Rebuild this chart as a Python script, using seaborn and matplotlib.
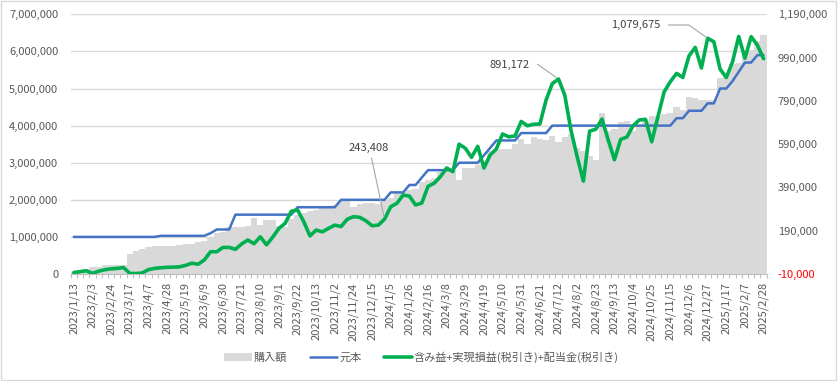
import numpy as np
import pandas as pd
import matplotlib
matplotlib.use("Agg")
import matplotlib.pyplot as plt
import seaborn as sns
from matplotlib.patches import Patch, Rectangle
from matplotlib.lines import Line2D

# ---------------- data ----------------
tick_labels = [
    "2023/1/13", "2023/2/3", "2023/2/24", "2023/3/17", "2023/4/7", "2023/4/28",
    "2023/5/19", "2023/6/9", "2023/6/30", "2023/7/21", "2023/8/10", "2023/9/1",
    "2023/9/22", "2023/10/13", "2023/11/2", "2023/11/24", "2023/12/15", "2024/1/5",
    "2024/1/26", "2024/2/16", "2024/3/8", "2024/3/29", "2024/4/19", "2024/5/10",
    "2024/5/31", "2024/6/21", "2024/7/12", "2024/8/2", "2024/8/23", "2024/9/13",
    "2024/10/4", "2024/10/25", "2024/11/15", "2024/12/6", "2024/12/27", "2025/1/17",
    "2025/2/7", "2025/2/28",
]

# 購入額 (thousand yen)
purchase_k = [
    50, 100, 130, 180, 200, 230, 240, 250, 250, 550,
    620, 670, 720, 750, 750, 760, 760, 780, 800, 820,
    850, 880, 1000, 1100, 1140, 1270, 1270, 1280, 1300, 1500,
    1320, 1460, 1460, 1300, 1270, 1480, 1600, 1650, 1700, 1720,
    1830, 1830, 1860, 2000, 2000, 1810, 1900, 1920, 1920, 1900,
    1980, 2050, 2180, 2220, 2260, 2280, 2480, 2530, 2600, 2740,
    2870, 2800, 2540, 2850, 2870, 2950, 3050, 3320, 3350, 3370,
    3370, 3500, 3630, 3500, 3680, 3650, 3620, 3730, 3550, 3680,
    3770, 3410, 3320, 3190, 3070, 4330, 3860, 3920, 4090, 4130,
    3860, 4000, 4130, 4270, 4270, 4300, 4330, 4510, 4420, 4770,
    4750, 4680, 4690, 4690, 5290, 5300, 5670, 5700, 5980, 6030,
    6280, 6450,
]

# 元本 (thousand yen)
principal_k = [
    1000, 1000, 1000, 1000, 1000, 1000, 1000, 1000, 1000, 1000,
    1000, 1000, 1000, 1000, 1030, 1030, 1030, 1030, 1030, 1030,
    1030, 1030, 1100, 1200, 1200, 1200, 1600, 1600, 1600, 1600,
    1600, 1600, 1600, 1600, 1600, 1600, 1800, 1800, 1800, 1800,
    1800, 1800, 1800, 2000, 2000, 2000, 2000, 2000, 2000, 2000,
    2000, 2200, 2200, 2200, 2400, 2400, 2600, 2800, 2800, 2800,
    2800, 2800, 3000, 3000, 3000, 3000, 3200, 3400, 3600, 3600,
    3600, 3600, 3800, 3800, 3800, 3800, 3800, 4000, 4000, 4000,
    4000, 4000, 4000, 4000, 4000, 4000, 4000, 4000, 4000, 4000,
    4000, 4000, 4000, 4000, 4000, 4000, 4000, 4200, 4200, 4400,
    4400, 4400, 4600, 4600, 5000, 5000, 5200, 5450, 5700, 5700,
    5900, 5900,
]

# 含み益+実現損益(税引き)+配当金(税引き) (yen)
pnl = [
    -3000, 1000, 5000, -7000, 3000, 10000, 14000, 16000, 20000, -7000,
    -8000, -5000, 10000, 16000, 19000, 21000, 22000, 23000, 30000, 40000,
    35000, 55000, 93000, 93000, 113000, 113000, 104000, 129000, 147000, 130000,
    162000, 125000, 160000, 201000, 224000, 280000, 286000, 232000, 166000, 193000,
    185000, 201000, 216000, 209000, 243000, 255000, 252000, 236000, 213000, 216000,
    243408, 301000, 317000, 355000, 350000, 309000, 318000, 395000, 410000, 440000,
    480000, 463000, 590000, 571000, 529000, 580000, 480000, 540000, 568000, 637000,
    624000, 628000, 695000, 675000, 682000, 683000, 794000, 870000, 891172, 817000,
    655000, 532000, 419000, 650000, 659000, 706000, 609000, 518000, 612000, 623000,
    675000, 702000, 705000, 601000, 717000, 832000, 879000, 917000, 898000, 998000,
    1037000, 942000, 1079675, 1063000, 937000, 898000, 970000, 1088000, 987000, 1087000,
    1048000, 985000,
]

legend_labels = ["購入額", "元本", "含み益+実現損益(税引き)+配当金(税引き)"]
annotated_weeks = [50, 78, 102]

# ---------------- figure ----------------
n = len(purchase_k)
df = pd.DataFrame({
    "week": np.arange(n),
    "purchase": np.array(purchase_k) * 1000,
    "principal": np.array(principal_k) * 1000,
    "pnl": pnl,
})

sns.set_theme(style="white")
plt.rcParams["font.family"] = ["Noto Sans CJK JP", "DejaVu Sans"]

GRAY_TXT = "#595959"
BAR_C = "#d9d9d9"
BLUE = "#4472c4"
GREEN = "#00b050"

fig = plt.figure(figsize=(8.38, 3.81), dpi=100)
ax = fig.add_axes([0.0844, 0.2808, 0.8305, 0.6816])

sns.barplot(data=df, x="week", y="purchase", color=BAR_C, saturation=1,
            width=1.0, errorbar=None, linewidth=0, ax=ax)
sns.lineplot(data=df, x="week", y="principal", color=BLUE, linewidth=1.8,
             legend=False, ax=ax)

ax.set_xlim(-0.5, n - 0.5)
ax.set_ylim(0, 7_000_000)
ax.set_yticks(np.arange(0, 7_000_001, 1_000_000))
ax.set_yticklabels([f"{int(v):,}" for v in np.arange(0, 7_000_001, 1_000_000)])
ax.yaxis.grid(True, color="#d9d9d9", linewidth=1)
ax.xaxis.grid(False)
ax.set_axisbelow(True)
ax.set_xlabel("")
ax.set_ylabel("")

ax.set_xticks(np.arange(0, n, 3))
ax.set_xticklabels(tick_labels, rotation=90)
ax.set_xticks(np.arange(-0.5, n, 1), minor=True)
ax.tick_params(axis="x", which="major", length=0, pad=6, labelsize=8, labelcolor=GRAY_TXT)
ax.tick_params(axis="x", which="minor", length=3, width=0.8, color="#bfbfbf", direction="out", bottom=True)
ax.tick_params(axis="y", length=0, pad=9, labelsize=8, labelcolor=GRAY_TXT)

for s in ["top", "left", "right"]:
    ax.spines[s].set_visible(False)
ax.spines["bottom"].set_color("#bfbfbf")
ax.spines["bottom"].set_linewidth(0.8)

ax2 = ax.twinx()
sns.lineplot(data=df, x="week", y="pnl", color=GREEN, linewidth=2.6,
             legend=False, ax=ax2)
ax2.set_ylim(-10_000, 1_190_000)
rticks = np.arange(-10_000, 1_190_001, 200_000)
ax2.set_yticks(rticks)
ax2.set_yticklabels([f"{int(v):,}" for v in rticks])
ax2.tick_params(axis="y", length=0, pad=8, labelsize=8, labelcolor=GRAY_TXT)
for lbl, v in zip(ax2.get_yticklabels(), rticks):
    if v < 0:
        lbl.set_color("#ff0000")
ax2.set_ylabel("")
ax2.set_xlabel("")
ax2.grid(False)
for s in ["top", "left", "right", "bottom"]:
    ax2.spines[s].set_visible(False)
ax2.set_xlim(-0.5, n - 0.5)

# annotations
offsets = {50: (-11.5, 51), 78: (-35, 10.3), 102: (-51.5, 9.5)}
for w in annotated_weeks:
    v = pnl[w]
    dx, dy = offsets[w]
    if w == 50:
        ap = dict(arrowstyle="-", color="#a6a6a6", lw=0.8, relpos=(0.55, 0.0),
                  shrinkA=1, shrinkB=2)
    else:
        ap = dict(arrowstyle="-", color="#a6a6a6", lw=0.8, relpos=(1.0, 0.5),
                  shrinkA=3, shrinkB=2,
                  connectionstyle="angle,angleA=0,angleB=-35,rad=0")
    ax2.annotate(f"{v:,}", xy=(w, v), xytext=(dx, dy), textcoords="offset points",
                 ha="center", va="center", fontsize=8, color="#404040",
                 arrowprops=ap, zorder=5)

# legend
handles = [
    Patch(facecolor=BAR_C, edgecolor="none"),
    Line2D([], [], color=BLUE, linewidth=1.8),
    Line2D([], [], color=GREEN, linewidth=2.6),
]
fig.legend(handles, legend_labels, loc="center", bbox_to_anchor=(0.503, 0.063),
           ncol=3, frameon=False, fontsize=8, labelcolor=GRAY_TXT,
           handlelength=2.5, handletextpad=0.2, columnspacing=2.0)

fig.patches.append(Rectangle((0.001, 0.002), 0.997, 0.995, transform=fig.transFigure,
                             fill=False, edgecolor="#d9d9d9", linewidth=1))

fig.savefig("out.png", dpi=100)
